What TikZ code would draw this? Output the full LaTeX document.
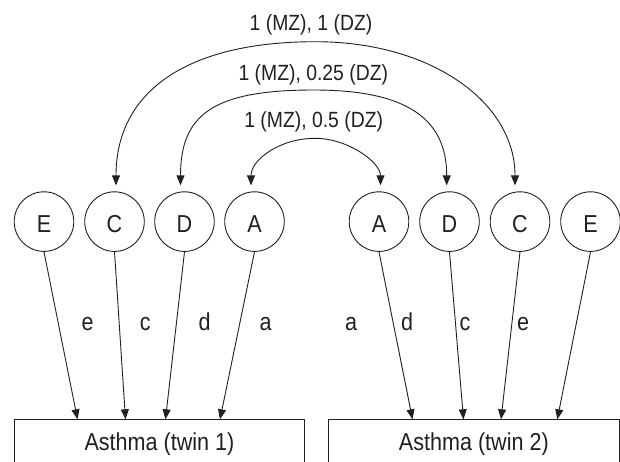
\documentclass[tikz,border=0pt]{standalone}
\usepackage{fontspec}
\setmainfont{Liberation Sans}[FakeStretch=0.88]
\usetikzlibrary{arrows.meta,calc}
\definecolor{ink}{RGB}{35,31,32}
\begin{document}
\begin{tikzpicture}[x=1pt,y=-1pt,
  latent/.style={circle, draw=ink, line width=0.9pt, minimum size=59.6pt, inner sep=0pt,
    font=\fontsize{24.5}{29}\selectfont, text=ink, text height=22pt, text depth=0pt},
  pathlab/.style={font=\fontsize{24.5}{29}\selectfont, text=ink, anchor=base, inner sep=0pt},
  toplab/.style={font=\fontsize{22}{26}\selectfont, text=ink, anchor=base, inner sep=0pt},
  outbox/.style={draw=ink, line width=0.9pt, anchor=north west, minimum width=290.4pt,
    inner xsep=0pt, inner ysep=0pt, text height=31.2pt, text depth=20pt,
    font=\fontsize{24.5}{29}\selectfont, text=ink},
  arr/.style={draw=ink, line width=0.9pt, -{Triangle[length=10pt,width=8pt]}},
  biarr/.style={draw=ink, line width=0.9pt, {Triangle[length=10pt,width=8pt]}-{Triangle[length=10pt,width=8pt]}}
]
\useasboundingbox (0,0) rectangle (620,461);
\clip (0,0) rectangle (620,461);

% latent variables
\node[latent] (E1) at (44,221.6) {E};
\node[latent] (C1) at (114.5,221.6) {C};
\node[latent] (D1) at (184.5,221.6) {D};
\node[latent] (A1) at (254.5,221.6) {A};
\node[latent] (A2) at (379,221.6) {A};
\node[latent] (D2) at (449.5,221.6) {D};
\node[latent] (C2) at (520,221.6) {C};
\node[latent] (E2) at (590.5,221.6) {E};

% outcome boxes
\node[outbox] (T1) at (13.8,419.3) {Asthma (twin 1)};
\node[outbox] (T2) at (328.2,419.3) {Asthma (twin 2)};

% arrow end points on the boxes
\coordinate (t1e) at (77.5,419.3);
\coordinate (t1c) at (125.5,419.3);
\coordinate (t1d) at (165.5,419.3);
\coordinate (t1a) at (220,419.3);
\coordinate (t2a) at (412.5,419.3);
\coordinate (t2d) at (463.5,419.3);
\coordinate (t2c) at (501,419.3);
\coordinate (t2e) at (557.3,419.3);

\draw[arr] (E1.south) -- (t1e);
\draw[arr] (C1.south) -- (t1c);
\draw[arr] (D1.south) -- (t1d);
\draw[arr] (A1.south) -- (t1a);
\draw[arr] (A2.south) -- (t2a);
\draw[arr] (D2.south) -- (t2d);
\draw[arr] (C2.south) -- (t2c);
\draw[arr] (E2.south) -- (t2e);

% path labels
\node[pathlab] (le1) at (87.5,330) {e};
\node[pathlab] (lc1) at (145.3,330) {c};
\node[pathlab] (ld1) at (204.5,330) {d};
\node[pathlab] (la1) at (265.5,330) {a};
\node[pathlab] (la2) at (351,330) {a};
\node[pathlab] (ld2) at (407,330) {d};
\node[pathlab] (lc2) at (465,330) {c};
\node[pathlab] (le2) at (523,330) {e};

% correlation arcs
\coordinate (oL) at ($(C1.north)+(1.5,-6)$);
\coordinate (oR) at ($(C2.north)+(-5,-6)$);
\coordinate (oT) at (315.5,41.7);
\coordinate (mL) at ($(D1.north)+(-4,-6)$);
\coordinate (mR) at ($(D2.north)+(-2.8,-6)$);
\coordinate (mT) at (314,90);
\coordinate (iL) at ($(A1.north)+(-3.5,-6)$);
\coordinate (iR) at ($(A2.north)+(1.5,-6)$);
\coordinate (iT) at (315,138.3);

\draw[biarr] (oL) .. controls (116,92.2) and (185.8,41.7) .. (oT)
                  .. controls (431.2,41.7) and (515,102.3) .. (oR);
\draw[biarr] (mL) .. controls (180.5,114) and (213.9,90) .. (mT)
                  .. controls (406.9,90) and (446.7,118.8) .. (mR);
\draw[biarr] (iL) .. controls (251,159.8) and (279.8,138.3) .. (iT)
                  .. controls (347.75,138.3) and (380.5,162.15) .. (iR);

% correlation labels
\node[toplab] (k1) at (311,30) {1 (MZ), 1 (DZ)};
\node[toplab] (k2) at (313.3,80.5) {1 (MZ), 0.25 (DZ)};
\node[toplab] (k3) at (313.7,127.5) {1 (MZ), 0.5 (DZ)};
\end{tikzpicture}
\end{document}
